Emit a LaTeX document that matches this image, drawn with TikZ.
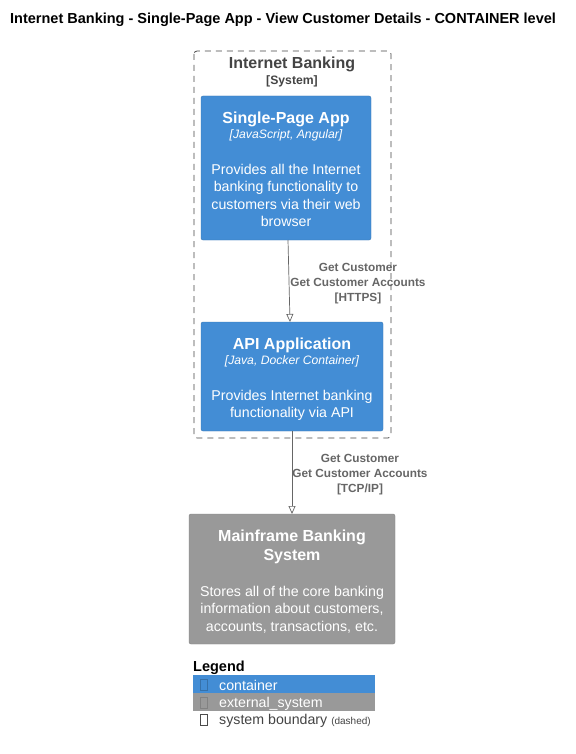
\documentclass[tikz,border=0pt]{standalone}
\usepackage{fontspec}
\setmainfont{Liberation Sans}
\usetikzlibrary{arrows.meta}
\definecolor{contblue}{HTML}{438DD5}
\definecolor{extgray}{HTML}{999999}
\definecolor{bndgray}{HTML}{444444}
\definecolor{relgray}{HTML}{666666}
\tikzset{
  box/.style={rounded corners=2pt, draw=#1!85!black, line width=0.4pt, fill=#1},
  wtext/.style={text=white, align=center, inner sep=0pt},
  rellabel/.style={text=relgray, font=\fontsize{11.8}{15}\selectfont\bfseries, align=center, inner sep=0pt},
  rel/.style={draw=relgray, line width=0.7pt, -{Triangle[open,length=8pt,width=7pt]}},
  tofu/.style={draw=#1, line width=0.5pt, minimum width=6.5pt, minimum height=11pt, inner sep=0pt}
}
\begin{document}
\begin{tikzpicture}[x=1pt,y=-1pt]
\useasboundingbox (0,0) rectangle (575,754);
\fill[white] (0,0) rectangle (575,754);
% title
\node[font=\fontsize{14.5}{16}\selectfont\bfseries, anchor=west, inner sep=0pt] (title) at (10,20) {Internet Banking - Single-Page App - View Customer Details - CONTAINER level};
% boundary
\draw[bndgray, dash pattern=on 6pt off 5pt, rounded corners=3pt, line width=0.8pt] (194,51) rectangle (391,438);
\node[text=bndgray, font=\fontsize{16}{18}\selectfont\bfseries, inner sep=0pt] (bt) at (292,64.5) {Internet Banking};
\node[text=bndgray, font=\fontsize{12.2}{14}\selectfont\bfseries, inner sep=0pt] (bs) at (292,81) {[System]};
% SPA
\draw[box=contblue] (201,96) rectangle (371,240);
\node[wtext, font=\fontsize{16}{18}\selectfont\bfseries] (spat) at (286,119) {Single-Page App};
\node[wtext, font=\fontsize{12.2}{14}\selectfont\itshape] (spac) at (286,135.5) {[JavaScript, Angular]};
\node[wtext, font=\fontsize{14.2}{17.5}\selectfont, anchor=north] (spad) at (286,164) {Provides all the Internet\\banking functionality to\\customers via their web\\browser};
% API
\draw[box=contblue] (201,322) rectangle (383,431);
\node[wtext, font=\fontsize{16}{18}\selectfont\bfseries] (apit) at (292,345) {API Application};
\node[wtext, font=\fontsize{12.2}{14}\selectfont\itshape] (apic) at (292,361.5) {[Java, Docker Container]};
\node[wtext, font=\fontsize{14.2}{17.5}\selectfont, anchor=north] (apid) at (292,390) {Provides Internet banking\\functionality via API};
% Mainframe
\draw[box=extgray] (189,514) rectangle (395,644);
\node[wtext, font=\fontsize{16}{19}\selectfont\bfseries, anchor=north] (mft) at (292,530) {Mainframe Banking\\System};
\node[wtext, font=\fontsize{14.2}{17.5}\selectfont, anchor=north] (mfd) at (292,586) {Stores all of the core banking\\information about customers,\\accounts, transactions, etc.};
% connectors
\coordinate (a1s) at (288,240);
\coordinate (a1e) at (290,322);
\draw[rel] (a1s) -- (a1e);
\node[rellabel] (l1) at (358,283.5) {Get Customer\\Get Customer Accounts\\{[HTTPS]}};
\coordinate (a2s) at (292,431);
\coordinate (a2e) at (292,514);
\draw[rel] (a2s) -- (a2e);
\node[rellabel] (l2) at (360,474.5) {Get Customer\\Get Customer Accounts\\{[TCP/IP]}};
% legend
\node[font=\fontsize{14.5}{16}\selectfont\bfseries, anchor=west, inner sep=0pt] (lg) at (193,668) {Legend};
\fill[contblue] (193,675) rectangle (375,693);
\fill[extgray] (193,693) rectangle (375,711);
\node[tofu=contblue!80!black] (t1) at (203.5,685) {};
\node[tofu=extgray!85!black] (t2) at (203.5,703) {};
\node[tofu=black!70] (t3) at (203.5,720) {};
\node[text=white, font=\fontsize{14.2}{16}\selectfont, anchor=west, inner sep=0pt] (lc) at (219,685.5) {container};
\node[text=white, font=\fontsize{14.2}{16}\selectfont, anchor=west, inner sep=0pt] (le) at (219,703.5) {external\_system};
\node[text=bndgray, font=\fontsize{14.2}{16}\selectfont, anchor=west, inner sep=0pt] (lb) at (219,720.5) {system boundary {\fontsize{10}{12}\selectfont(dashed)}};
\end{tikzpicture}
\end{document}
